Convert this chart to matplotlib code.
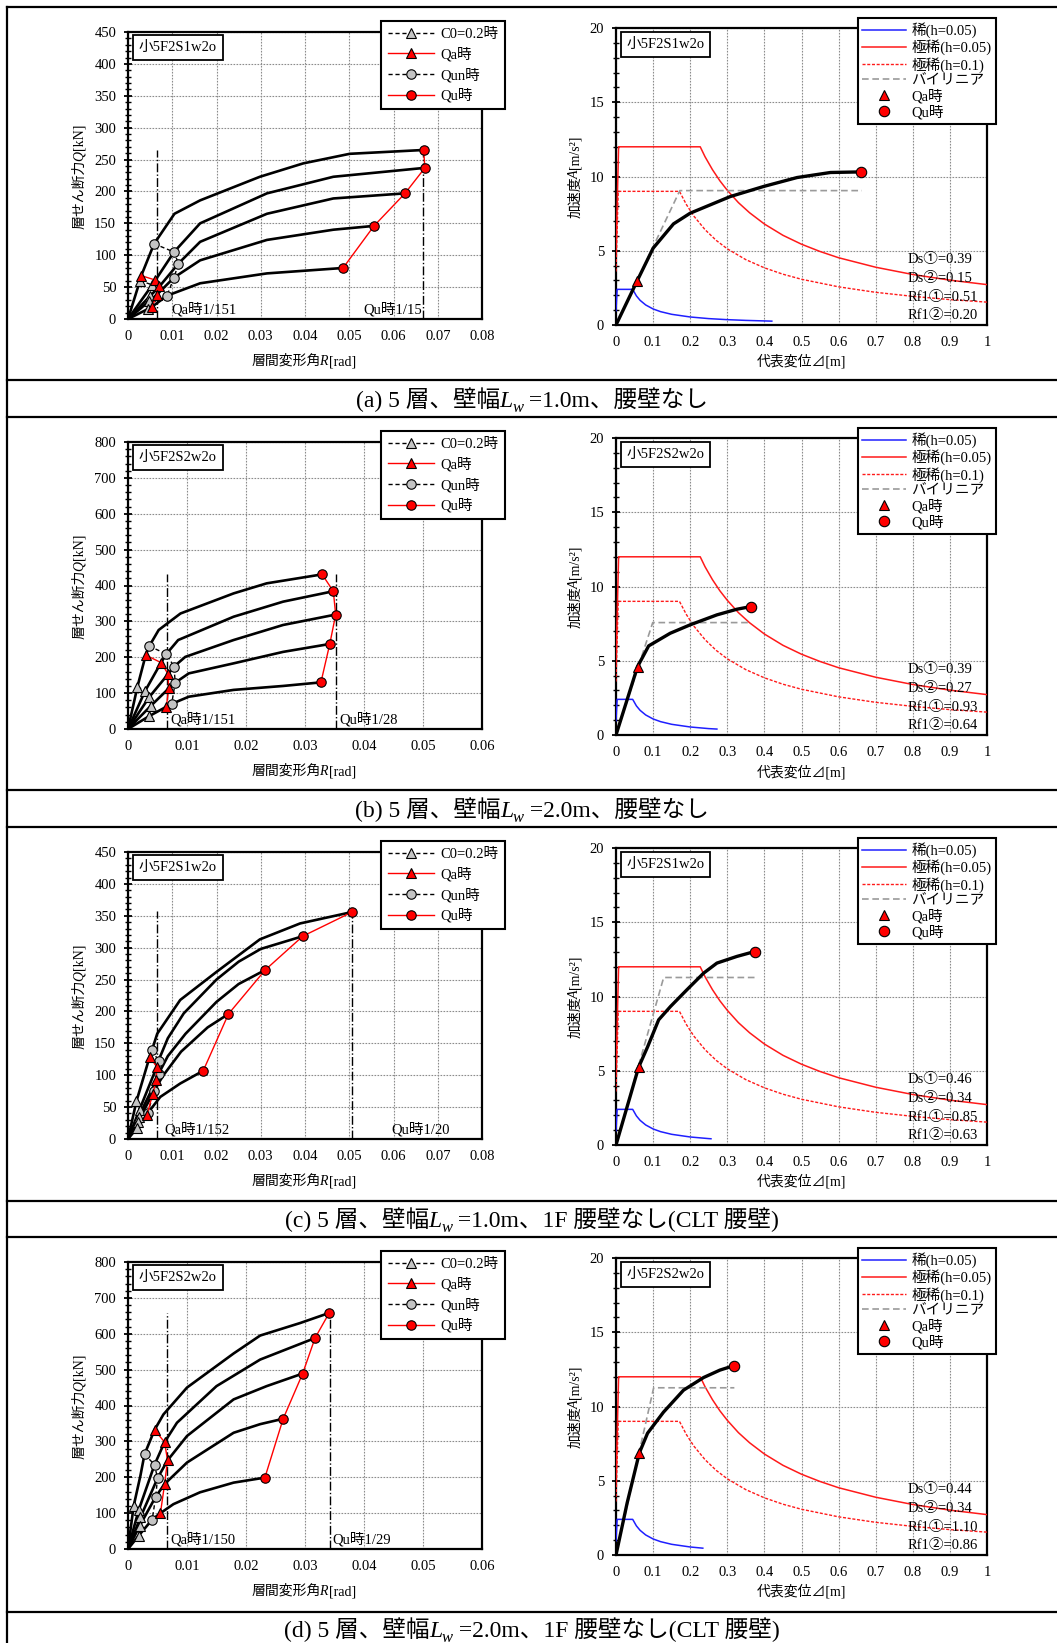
import matplotlib
matplotlib.use("Agg")
import matplotlib.pyplot as plt
from matplotlib.ticker import MultipleLocator, FuncFormatter
from matplotlib.lines import Line2D

plt.rcParams['font.family'] = ['Liberation Serif', 'Noto Sans CJK JP']
plt.rcParams['axes.unicode_minus'] = False

W, H = 1057, 1643
fig = plt.figure(figsize=(W / 100, H / 100), dpi=100)
renderer = fig.canvas.get_renderer()

# ------------------------------------------------------------------ data
samples = ['小5F2S1w2o', '小5F2S2w2o', '小5F2S1w2o', '小5F2S2w2o']
panel_tags = ['(a)', '(b)', '(c)', '(d)']
caption_tails = [' =1.0m、腰壁なし', ' =2.0m、腰壁なし',
                 ' =1.0m、1F 腰壁なし(CLT 腰壁)', ' =2.0m、1F 腰壁なし(CLT 腰壁)']

# left panels: storey shear Q [kN] vs drift angle R [rad], five storeys each
a_R = [[0, 0.0027, 0.0030, 0.0059, 0.0105, 0.0163, 0.0298, 0.0396, 0.0501, 0.0668],
       [0, 0.0055, 0.0062, 0.0104, 0.0163, 0.0314, 0.0464, 0.0671],
       [0, 0.0050, 0.0071, 0.0114, 0.0163, 0.0314, 0.0464, 0.0626],
       [0, 0.0048, 0.0065, 0.0104, 0.0163, 0.0314, 0.0464, 0.0556],
       [0, 0.0046, 0.0055, 0.0088, 0.0163, 0.0314, 0.0486]]
a_Q = [[0, 60, 68, 118, 165, 186, 223, 244, 259, 265],
       [0, 53.5, 61, 105, 150, 197, 223, 237],
       [0, 36, 51, 87, 121, 165, 189, 197],
       [0, 28, 38, 65, 92, 124, 140, 146],
       [0, 16, 19.5, 36.5, 56, 71.5, 80]]
a_c0_R = [0.0027, 0.0055, 0.0050, 0.0048, 0.0046]
a_c0_Q = [60, 53.5, 36, 28, 16]
a_qa_R = [0.0030, 0.0062, 0.0071, 0.0065, 0.0055]
a_qa_Q = [68, 61, 51, 38, 19.5]
a_qun_R = [0.0059, 0.0104, 0.0114, 0.0104, 0.0088]
a_qun_Q = [118, 105, 87, 65, 36.5]
a_qu_R = [0.0668, 0.0671, 0.0626, 0.0556, 0.0486]
a_qu_Q = [265, 237, 197, 146, 80]

b_R = [[0, 0.0016, 0.0030, 0.0036, 0.0052, 0.0089, 0.0179, 0.0235, 0.0329],
       [0, 0.0029, 0.0056, 0.0065, 0.0085, 0.0179, 0.0263, 0.0348],
       [0, 0.0036, 0.0068, 0.0078, 0.0097, 0.0179, 0.0263, 0.0352],
       [0, 0.0039, 0.0069, 0.0080, 0.0103, 0.0179, 0.0263, 0.0342],
       [0, 0.0036, 0.0065, 0.0074, 0.0103, 0.0179, 0.0263, 0.0327]]
b_Q = [[0, 118, 206, 231, 276, 322, 378, 406, 431],
       [0, 106, 185, 209, 248, 313, 355, 384],
       [0, 89, 153, 174, 201, 248, 290, 319],
       [0, 65, 113, 129, 155, 183, 215, 237],
       [0, 36, 62, 70, 90, 109, 120, 130]]
b_c0_R = [0.0016, 0.0029, 0.0036, 0.0039, 0.0036]
b_c0_Q = [118, 106, 89, 65, 36]
b_qa_R = [0.0030, 0.0056, 0.0068, 0.0069, 0.0065]
b_qa_Q = [206, 185, 153, 113, 62]
b_qun_R = [0.0036, 0.0065, 0.0078, 0.0080, 0.0074]
b_qun_Q = [231, 209, 174, 129, 70]
b_qu_R = [0.0329, 0.0348, 0.0352, 0.0342, 0.0327]
b_qu_Q = [431, 384, 319, 237, 130]

c_R = [[0, 0.0019, 0.0049, 0.0054, 0.0066, 0.0118, 0.0200, 0.0298, 0.0389, 0.0507],
       [0, 0.0026, 0.0065, 0.0069, 0.0090, 0.0126, 0.0200, 0.0250, 0.0300, 0.0395],
       [0, 0.0024, 0.0064, 0.0069, 0.0090, 0.0130, 0.0200, 0.0250, 0.0310],
       [0, 0.0022, 0.0056, 0.0059, 0.0080, 0.0120, 0.0180, 0.0227],
       [0, 0.0020, 0.0043, 0.0045, 0.0073, 0.0118, 0.0170]]
c_Q = [[0, 59, 129, 139, 165, 218, 262, 313, 338, 356],
       [0, 46, 113, 123, 158, 197, 250, 278, 298, 318],
       [0, 35, 92, 102, 130, 165, 215, 243, 265],
       [0, 27, 71, 76, 100, 137, 175, 196],
       [0, 17, 38, 41, 66, 87, 107]]
c_c0_R = [0.0019, 0.0026, 0.0024, 0.0022, 0.0020]
c_c0_Q = [59, 46, 35, 27, 17]
c_qa_R = [0.0049, 0.0065, 0.0064, 0.0056, 0.0043]
c_qa_Q = [129, 113, 92, 71, 38]
c_qun_R = [0.0054, 0.0069, 0.0069, 0.0059, 0.0045]
c_qun_Q = [139, 123, 102, 76, 41]
c_qu_R = [0.0507, 0.0395, 0.0310, 0.0227, 0.0170]
c_qu_Q = [356, 318, 265, 196, 107]

d_R = [[0, 0.00096, 0.0021, 0.0028, 0.0045, 0.0060, 0.0100, 0.0179, 0.0224, 0.0292, 0.0341],
       [0, 0.0018, 0.0045, 0.0062, 0.0083, 0.0150, 0.0224, 0.0317],
       [0, 0.0021, 0.0050, 0.0067, 0.0100, 0.0179, 0.0235, 0.0296],
       [0, 0.0020, 0.0047, 0.0062, 0.0100, 0.0179, 0.0224, 0.0263],
       [0, 0.0018, 0.0041, 0.0055, 0.0077, 0.0122, 0.0179, 0.0232]]
d_Q = [[0, 120, 204, 264, 332, 375, 450, 545, 595, 630, 658],
       [0, 108, 235, 298, 352, 454, 528, 588],
       [0, 88, 197, 247, 315, 417, 454, 489],
       [0, 65, 146, 181, 241, 324, 348, 363],
       [0, 37, 82, 100, 125, 158, 185, 199]]
d_c0_R = [0.00096, 0.0018, 0.0021, 0.0020, 0.0018]
d_c0_Q = [120, 108, 88, 65, 37]
d_qa_R = [0.0045, 0.0062, 0.0067, 0.0062, 0.0055]
d_qa_Q = [332, 298, 247, 181, 100]
d_qun_R = [0.0028, 0.0045, 0.0050, 0.0047, 0.0041]
d_qun_Q = [264, 235, 197, 146, 82]
d_qu_R = [0.0341, 0.0317, 0.0296, 0.0263, 0.0232]
d_qu_Q = [658, 588, 489, 363, 199]

left_xmax = [0.08, 0.06, 0.08, 0.06]
left_ymax = [450, 800, 450, 800]
left_ystep = [50, 100, 50, 100]
left_yminor = [10, 20, 10, 20]
qa_line_R = [0.00662, 0.00662, 0.00658, 0.00667]
qu_line_R = [0.0667, 0.0353, 0.0506, 0.0342]
line_top_Q = [265, 432, 358, 659]
qa_labels = ['Qa時1/151', 'Qa時1/151', 'Qa時1/152', 'Qa時1/150']
qu_labels = ['Qu時1/15', 'Qu時1/28', 'Qu時1/20', 'Qu時1/29']
qa_label_R = [0.0097, 0.0072, 0.0083, 0.0072]
qu_label_R = [0.0532, 0.0358, 0.0595, 0.0347]
label_Q = [15, 26, 15, 26]

# right panels: acceleration A [m/s2] vs representative displacement [m]
rare_D = [0, 0.003, 0.045, 0.055, 0.065, 0.08, 0.10, 0.12, 0.15, 0.20, 0.25, 0.30, 0.35, 0.42]
rare_A = [0.96, 2.4, 2.4, 1.96, 1.66, 1.35, 1.08, 0.90, 0.72, 0.54, 0.43, 0.36, 0.31, 0.26]
rare_end_D = [0.42, 0.272, 0.256, 0.234]
rare_end_A = [0.26, 0.40, 0.42, 0.46]
vrare05_D = [0, 0.007, 0.227, 0.24, 0.26, 0.28, 0.30, 0.33, 0.36, 0.40, 0.45, 0.50, 0.55,
             0.60, 0.70, 0.80, 0.90, 1.00]
vrare05_A = [4.8, 12.0, 12.0, 11.33, 10.46, 9.71, 9.07, 8.24, 7.56, 6.80, 6.04, 5.44, 4.95,
             4.53, 3.89, 3.40, 3.02, 2.72]
vrare10_D = [0, 0.006, 0.171, 0.19, 0.21, 0.24, 0.27, 0.30, 0.35, 0.40, 0.45, 0.50, 0.60,
             0.70, 0.80, 0.90, 1.00]
vrare10_A = [3.6, 9.0, 9.0, 8.1, 7.33, 6.42, 5.70, 5.13, 4.40, 3.85, 3.42, 3.08, 2.57,
             2.20, 1.93, 1.71, 1.54]

a_bil_D = [0, 0.172, 0.663]
a_bil_A = [0, 9.05, 9.05]
a_cap_D = [0, 0.057, 0.100, 0.155, 0.200, 0.308, 0.398, 0.488, 0.578, 0.661]
a_cap_A = [0, 2.97, 5.17, 6.81, 7.53, 8.65, 9.33, 9.93, 10.27, 10.31]
b_bil_D = [0, 0.099, 0.362]
b_bil_A = [0, 7.57, 7.57]
b_cap_D = [0, 0.058, 0.088, 0.146, 0.200, 0.272, 0.326, 0.364]
b_cap_A = [0, 4.60, 6.00, 6.85, 7.42, 8.09, 8.47, 8.65]
c_bil_D = [0, 0.1285, 0.3756]
c_bil_A = [0, 11.28, 11.28]
c_cap_D = [0, 0.061, 0.085, 0.115, 0.147, 0.191, 0.236, 0.272, 0.326, 0.374]
c_cap_A = [0, 5.24, 6.6, 8.43, 9.33, 10.45, 11.57, 12.25, 12.70, 13.03]
d_bil_D = [0, 0.1015, 0.319]
d_bil_A = [0, 11.26, 11.26]
d_cap_D = [0, 0.030, 0.063, 0.085, 0.128, 0.182, 0.236, 0.280, 0.319]
d_cap_A = [0, 3.5, 6.88, 8.2, 9.62, 11.1, 11.95, 12.45, 12.76]

cap_qa_D = [0.057, 0.058, 0.061, 0.063]
cap_qa_A = [2.97, 4.60, 5.24, 6.88]
cap_qu_D = [0.661, 0.364, 0.374, 0.319]
cap_qu_A = [10.31, 8.65, 13.03, 12.76]

ds1 = ['0.39', '0.39', '0.46', '0.44']
ds2 = ['0.15', '0.27', '0.34', '0.34']
rf1 = ['0.51', '0.93', '0.85', '1.10']
rf2 = ['0.20', '0.64', '0.63', '0.86']

# ------------------------------------------------------------------ helpers
FS = 10.5


def frect(x0, y0, x1, y1):
    return [x0 / W, 1 - y1 / H, (x1 - x0) / W, (y1 - y0) / H]


def tickfmt(v, pos):
    v = round(v, 6)
    if abs(v) < 1e-12:
        return '0'
    return '%g' % v


def measure(s, **kw):
    t = fig.text(0, 0, s, **kw)
    w = t.get_window_extent(renderer).width
    t.remove()
    return w


def rich(xc, yb, pieces, rotation=0):
    """pieces: (text, props, baseline shift px, pre gap px, post gap px).
    xc: centre along the text direction, yb: baseline (px from top-left)."""
    widths = [measure(p[0], **p[1]) + p[3] + p[4] for p in pieces]
    total = sum(widths)
    pos = -total / 2
    for (s, kw, dy, pre, post), w in zip(pieces, widths):
        if rotation == 0:
            x, y = xc + pos + pre, yb - dy
        else:
            x, y = xc - dy, yb - (pos + pre)
        fig.text(x / W, 1 - y / H, s, rotation=rotation, rotation_mode='anchor',
                 ha='left', va='baseline', **kw)
        pos += w


def style_axes(ax, xmax, xstep, ymax, ystep, yminor):
    ax.set_xlim(0, xmax)
    ax.set_ylim(0, ymax)
    ax.xaxis.set_major_locator(MultipleLocator(xstep))
    ax.yaxis.set_major_locator(MultipleLocator(ystep))
    ax.yaxis.set_minor_locator(MultipleLocator(yminor))
    ax.xaxis.set_major_formatter(FuncFormatter(tickfmt))
    ax.yaxis.set_major_formatter(FuncFormatter(tickfmt))
    ax.grid(True, which='major', color='#8c8c8c', ls=(0, (1.5, 1.2)), lw=0.8)
    ax.set_axisbelow(True)
    for sp in ax.spines.values():
        sp.set_linewidth(1.6)
        sp.set_color('black')
    ax.tick_params(axis='y', which='major', direction='inout', length=6, width=1.3,
                   labelsize=FS, pad=5.5)
    ax.tick_params(axis='y', which='minor', direction='inout', length=4, width=1.0)
    ax.tick_params(axis='x', which='major', direction='in', length=0, labelsize=FS, pad=8)


def sample_box(ax, xc, yc, text):
    ax.text(xc, yc, text, transform=ax.transAxes, ha='center', va='center', fontsize=FS,
            bbox=dict(boxstyle='square,pad=0.38', fc='white', ec='black', lw=1.3), zorder=6)


left_data = [
    (a_R, a_Q, a_c0_R, a_c0_Q, a_qa_R, a_qa_Q, a_qun_R, a_qun_Q, a_qu_R, a_qu_Q),
    (b_R, b_Q, b_c0_R, b_c0_Q, b_qa_R, b_qa_Q, b_qun_R, b_qun_Q, b_qu_R, b_qu_Q),
    (c_R, c_Q, c_c0_R, c_c0_Q, c_qa_R, c_qa_Q, c_qun_R, c_qun_Q, c_qu_R, c_qu_Q),
    (d_R, d_Q, d_c0_R, d_c0_Q, d_qa_R, d_qa_Q, d_qun_R, d_qun_Q, d_qu_R, d_qu_Q),
]
right_data = [(a_bil_D, a_bil_A, a_cap_D, a_cap_A), (b_bil_D, b_bil_A, b_cap_D, b_cap_A),
              (c_bil_D, c_bil_A, c_cap_D, c_cap_A), (d_bil_D, d_bil_A, d_cap_D, d_cap_A)]

GRAY = '#c4c4c4'
lab_kw = dict(fontsize=10)

for i in range(4):
    dy = 410 * i
    # ---------------- left panel
    axl = fig.add_axes(frect(128, 32 + dy, 482, 319 + dy))
    style_axes(axl, left_xmax[i], 0.01, left_ymax[i], left_ystep[i], left_yminor[i])
    R, Q, c0R, c0Q, qaR, qaQ, qunR, qunQ, quR, quQ = left_data[i]
    for r, q in zip(R, Q):
        axl.plot(r, q, color='black', lw=1.9, zorder=3, solid_joinstyle='round')
    axl.plot([qa_line_R[i]] * 2, [0, line_top_Q[i]], color='black', ls='-.', lw=1.0, zorder=2)
    axl.plot([qu_line_R[i]] * 2, [0, line_top_Q[i]], color='black', ls='-.', lw=1.0, zorder=2)
    h1, = axl.plot(c0R, c0Q, color='black', ls=(0, (3, 2)), lw=1.0, marker='^', ms=6.5,
                   mfc=GRAY, mec='black', mew=0.8, zorder=5)
    h2, = axl.plot(qaR, qaQ, color='red', lw=1.0, marker='^', ms=6.5,
                   mfc='red', mec='black', mew=0.8, zorder=6)
    h3, = axl.plot(qunR, qunQ, color='black', ls=(0, (3, 2)), lw=1.0, marker='o', ms=6.8,
                   mfc=GRAY, mec='black', mew=0.8, zorder=5)
    h4, = axl.plot(quR, quQ, color='red', lw=1.0, marker='o', ms=6.8,
                   mfc='red', mec='black', mew=0.8, zorder=6)
    axl.text(qa_label_R[i], label_Q[i], qa_labels[i], fontsize=FS, ha='left', va='center', zorder=7)
    axl.text(qu_label_R[i], label_Q[i], qu_labels[i], fontsize=FS, ha='left', va='center', zorder=7)
    sample_box(axl, (178 - 128) / 354, (319 - 47.5) / 287, samples[i])
    leg = axl.legend([h1, h2, h3, h4], ['C0=0.2時', 'Qa時', 'Qun時', 'Qu時'],
                     loc='upper left', bbox_to_anchor=(381 / W, 1 - (21 + dy) / H),
                     bbox_transform=fig.transFigure, borderaxespad=0, fontsize=FS,
                     handlelength=3.2, handletextpad=0.4, labelspacing=0.42,
                     borderpad=0.45, fancybox=False, framealpha=1, edgecolor='black')
    leg.get_frame().set_linewidth(1.5)
    leg.set_zorder(10)

    # ---------------- right panel
    axr = fig.add_axes(frect(616, 28 + dy, 987, 325 + dy))
    style_axes(axr, 1.0, 0.1, 20, 5, 1)
    bil_D, bil_A, cap_D, cap_A = right_data[i]
    bD = [d for d in rare_D if d < rare_end_D[i]] + [rare_end_D[i]]
    bA = [a for d, a in zip(rare_D, rare_A) if d < rare_end_D[i]] + [rare_end_A[i]]
    l1, = axr.plot(bD, bA, color='#1f1fff', lw=1.1, zorder=3)
    l2, = axr.plot(vrare05_D, vrare05_A, color='#ff1a1a', lw=1.1, zorder=3)
    l3, = axr.plot(vrare10_D, vrare10_A, color='#ff1a1a', lw=1.0, ls=(0, (2.2, 1.2)), zorder=3)
    l4, = axr.plot(bil_D, bil_A, color='#9a9a9a', lw=1.2, ls=(0, (4, 2.2)), zorder=3)
    axr.plot(cap_D, cap_A, color='black', lw=2.4, zorder=4, solid_joinstyle='round')
    l5, = axr.plot([cap_qa_D[i]], [cap_qa_A[i]], ls='none', marker='^', ms=7.5, mfc='red',
                   mec='black', mew=0.8, zorder=6)
    l6, = axr.plot([cap_qu_D[i]], [cap_qu_A[i]], ls='none', marker='o', ms=7.5, mfc='red',
                   mec='black', mew=0.8, zorder=6)
    for txt, yy in zip(['Ds①=' + ds1[i], 'Ds②=' + ds2[i], 'Rf1①=' + rf1[i], 'Rf1②=' + rf2[i]],
                       [4.38, 3.15, 1.84, 0.67]):
        axr.text(0.785, yy, txt, fontsize=FS, ha='left', va='center', zorder=7)
    sample_box(axr, (665.5 - 616) / 371, (325 - 44.5) / 297, samples[i])
    leg2 = axr.legend([l1, l2, l3, l4, l5, l6],
                      ['稀(h=0.05)', '極稀(h=0.05)', '極稀(h=0.1)', 'バイリニア', 'Qa時', 'Qu時'],
                      loc='upper left', bbox_to_anchor=(858 / W, 1 - (18 + dy) / H),
                      bbox_transform=fig.transFigure, borderaxespad=0, fontsize=FS,
                      handlelength=3.0, handletextpad=0.35, labelspacing=0.1,
                      borderpad=0.3, fancybox=False, framealpha=1, edgecolor='black')
    leg2.get_frame().set_linewidth(1.5)
    leg2.set_zorder(10)

    # ---------------- axis labels (mixed fonts)
    ital = dict(fontsize=10, family='Liberation Serif', style='italic')
    rom = dict(fontsize=10, family='Liberation Serif')
    rich(304, 365 + dy, [('層間変形角', lab_kw, 0, 0, 0), ('R', ital, 0, -2, 1.5),
                         ('[rad]', rom, 0, 0, 0)])
    rich(83, 176 + dy, [('層せん断力', lab_kw, 0, 0, 0), ('Q', ital, 0, -2, 1.5),
                        ('[kN]', rom, 0, 0, 0)], rotation=90)
    rich(801, 366 + dy, [('代表変位⊿[m]', lab_kw, 0, 0, 0)])
    rich(579, 177 + dy, [('加速度', lab_kw, 0, 0, 0), ('A', ital, 0, -2, 1.5),
                         ('[m/s²]', rom, 0, 0, 0)], rotation=90)

    # ---------------- caption
    cfs = 17
    cap_kw = dict(fontsize=cfs)
    rich(532, 407 + dy, [(panel_tags[i] + ' 5 層、壁幅', cap_kw, 0, 0, 0),
                         ('L', dict(fontsize=cfs, family='Liberation Serif', style='italic'), 0, -1, 0),
                         ('w', dict(fontsize=cfs * 0.7, family='Liberation Serif', style='italic'),
                          -5, 0, 0),
                         (caption_tails[i], cap_kw, 0, 0, 0)])

# ------------------------------------------------------------------ frame lines
for yy in [7, 380, 417, 790, 827, 1201, 1237, 1612]:
    fig.add_artist(Line2D([7 / W, 1.0], [1 - yy / H] * 2, color='black', lw=1.6,
                          transform=fig.transFigure))
fig.add_artist(Line2D([7 / W] * 2, [1 - 7 / H, 0], color='black', lw=1.6, transform=fig.transFigure))

fig.savefig('out.png', dpi=100)
